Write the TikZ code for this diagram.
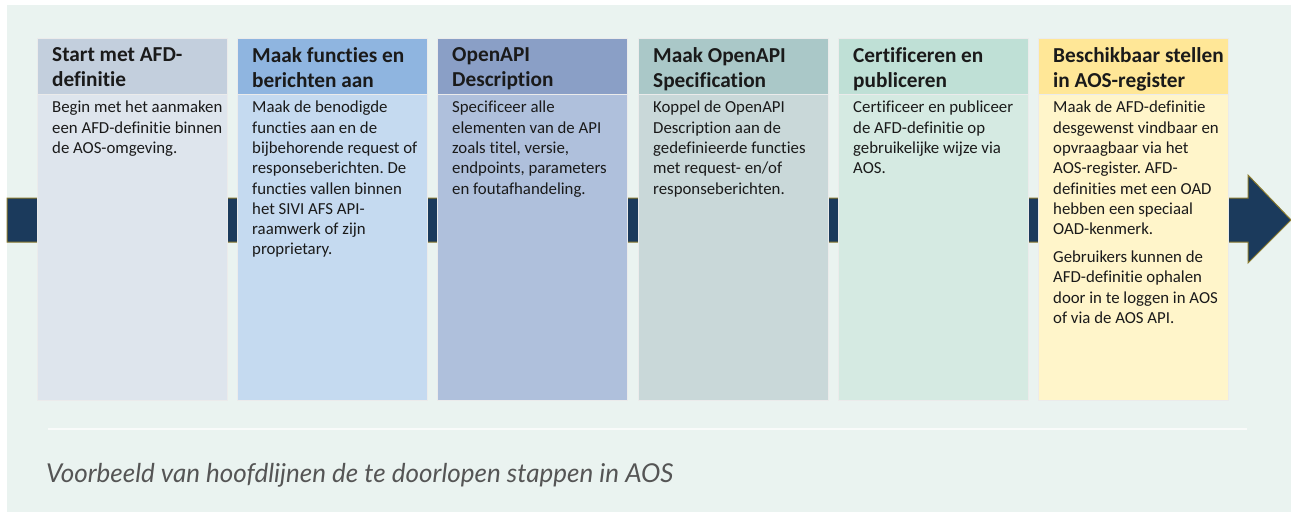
\documentclass[tikz,border=0pt]{standalone}
\usepackage{fontspec}
\setmainfont{Carlito}[Ligatures=NoCommon]
\newfontfamily\capfont{Lato}
\frenchspacing

\definecolor{achter}{HTML}{EAF3F0}
\definecolor{navy}{HTML}{1B3A5C}
\definecolor{goud}{HTML}{8A7A2E}
\definecolor{tekst}{HTML}{1A1A1A}
\definecolor{grijs}{HTML}{555555}
\definecolor{kopA}{HTML}{C3CFDD}\definecolor{romA}{HTML}{DEE5ED}
\definecolor{kopB}{HTML}{8FB5E0}\definecolor{romB}{HTML}{C5DAF0}
\definecolor{kopC}{HTML}{8A9FC6}\definecolor{romC}{HTML}{AFC0DC}
\definecolor{kopD}{HTML}{AAC8C8}\definecolor{romD}{HTML}{C9D8D9}
\definecolor{kopE}{HTML}{BFE0D6}\definecolor{romE}{HTML}{D5EAE2}
\definecolor{kopF}{HTML}{FFE797}\definecolor{romF}{HTML}{FFF5CA}

\begin{document}
\begin{tikzpicture}[x=1pt, y=-1pt,
  blok/.style={anchor=north west, minimum width=190pt, inner sep=0pt, draw=black!8, line width=.5pt},
  kop/.style={anchor=north west, align=left, inner sep=0pt, text=tekst,
    font=\fontsize{21.3}{25}\selectfont\bfseries, execute at begin node=\strut},
  uitleg/.style={anchor=north west, align=left, inner sep=0pt, text=tekst,
    font=\fontsize{16.8}{20.3}\selectfont, execute at begin node=\strut}]
\useasboundingbox (0,0) rectangle (1291,512);
\fill[achter] (7,5) rectangle (1291,512);

% pijl achter de stappen
\draw[fill=navy, draw=goud, line width=1pt] (7,198) -- (1248,198) -- (1248,175) -- (1291,220)
  -- (1248,263) -- (1248,242) -- (7,242) -- cycle;

\foreach \i/\x/\kc/\bc in {1/37/kopA/romA, 2/237/kopB/romB, 3/437/kopC/romC,
  4/638/kopD/romD, 5/838/kopE/romE, 6/1038/kopF/romF}
{
  \node[blok, fill=\bc, minimum height=362pt] (b\i) at (\x,38) {};
  \node[blok, fill=\kc, minimum height=56pt] (k\i) at (\x,38) {};
}

\node[kop] (kt1) at ([xshift=15pt, yshift=-9pt]k1.north west) {Start met AFD-\\definitie};
\node[kop] (kt2) at ([xshift=15pt, yshift=-9pt]k2.north west) {Maak functies en\\berichten aan};
\node[kop] (kt3) at ([xshift=15pt, yshift=-9pt]k3.north west) {OpenAPI\\Description};
\node[kop] (kt4) at ([xshift=15pt, yshift=-9pt]k4.north west) {Maak OpenAPI\\Specification};
\node[kop] (kt5) at ([xshift=15pt, yshift=-9pt]k5.north west) {Certificeren en\\publiceren};
\node[kop] (kt6) at ([xshift=15pt, yshift=-9pt]k6.north west) {Beschikbaar stellen\\in AOS-register};

\node[uitleg] (ut1) at ([xshift=15pt, yshift=-6.5pt]k1.south west)
  {Begin met het aanmaken\\een AFD-definitie binnen\\de AOS-omgeving.};
\node[uitleg] (ut2) at ([xshift=15pt, yshift=-6.5pt]k2.south west)
  {Maak de benodigde\\functies aan en de\\bijbehorende request of\\responseberichten. De\\functies vallen binnen\\het SIVI AFS API-\\raamwerk of zijn\\proprietary.};
\node[uitleg] (ut3) at ([xshift=15pt, yshift=-6.5pt]k3.south west)
  {Specificeer alle\\elementen van de API\\zoals titel, versie,\\endpoints, parameters\\en foutafhandeling.};
\node[uitleg] (ut4) at ([xshift=15pt, yshift=-6.5pt]k4.south west)
  {Koppel de OpenAPI\\Description aan de\\gedefinieerde functies\\met request- en/of\\responseberichten.};
\node[uitleg] (ut5) at ([xshift=15pt, yshift=-6.5pt]k5.south west)
  {Certificeer en publiceer\\de AFD-definitie op\\gebruikelijke wijze via\\AOS.};
\node[uitleg] (ut6) at ([xshift=15pt, yshift=-6.5pt]k6.south west)
  {Maak de AFD-definitie\\desgewenst vindbaar en\\opvraagbaar via het\\AOS-register. AFD-\\definities met een OAD\\hebben een speciaal\\OAD-kenmerk.\\[7.5pt]Gebruikers kunnen de\\AFD-definitie ophalen\\door in te loggen in AOS\\of via de AOS API.};

\draw[white!70!achter, line width=2pt] (48,429) -- (1247,429);
\node[anchor=base west, inner sep=0pt, text=grijs, font=\capfont\itshape\fontsize{26}{30}\selectfont]
  (onderschrift) at (46,482) {Voorbeeld van hoofdlijnen de te doorlopen stappen in AOS};
\end{tikzpicture}
\end{document}
